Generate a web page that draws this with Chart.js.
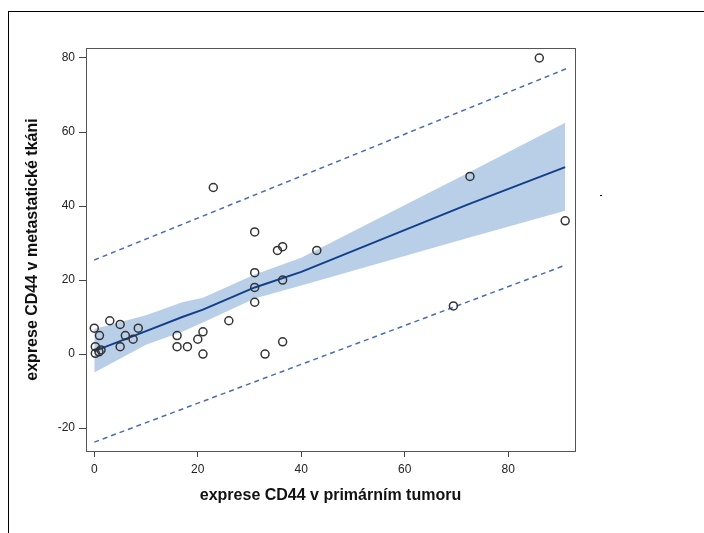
<!DOCTYPE html>
<html>
<head>
<meta charset="utf-8">
<script src="https://cdn.jsdelivr.net/npm/chart.js@4/dist/chart.umd.min.js"></script>
<style>
  body { margin: 0; background: #fff; overflow: hidden; }
  #wrap { position: relative; width: 704px; height: 533px; }
  #frame { position: absolute; left: 8px; top: 11px; width: 720px; height: 540px; border: 1px solid #000; }
  #dot { position: absolute; left: 600px; top: 195px; width: 2px; height: 1px; background: #000; }
  canvas { position: absolute; left: 0; top: 0; }
</style>
</head>
<body>
<div id="wrap">
  <div id="frame"></div>
  <div id="dot"></div>
  <canvas id="graf" width="704" height="533"></canvas>
</div>
<script>
// pozorovane hodnoty
const primX = [0.2, 0.9, 1.3, 0.2, 0, 1, 3, 5, 5, 6, 7.5, 8.5, 16, 16, 18, 20, 21, 21, 23, 26,
               31, 31, 31, 31, 33, 35.4, 36.4, 36.4, 36.4, 43, 69.4, 72.6, 86, 91];
const metaY = [0.2, 0.6, 1.1, 2, 7, 5, 9, 8, 2, 5, 4, 7, 5, 2, 2, 4, 6, 0, 45, 9,
               33, 22, 18, 14, 0, 28, 29, 20, 3.3, 28, 13, 48, 80, 36];

// vyhlazena krivka a pas spolehlivosti
const curveX = [0, 10, 17, 21, 31, 40, 72, 91];
const fitY   = [0.8, 6.2, 10, 12, 18, 22.2, 40.3, 50.5];
const bandHi = [6.8, 10.5, 14, 15.2, 21.5, 26, 48.8, 62.5];
const bandLo = [-5, 2.5, 6, 8.5, 15, 18.5, 31.3, 38.7];

// predikcni meze
const predX  = [0, 91.2];
const predHi = [25.4, 77.1];
const predLo = [-23.8, 24.1];

const xTicks = [0, 20, 40, 60, 80];
const yTicks = [-20, 0, 20, 40, 60, 80];

const pts = (xs, ys) => xs.map((x, i) => ({ x: x, y: ys[i] }));

const navy = '#123f8c';
const dashBlue = '#4a6db0';
const bandCol = '#b9cfe8';

// ramecek kolem plochy grafu
const ramecek = {
  id: 'ramecek',
  afterDraw(chart) {
    const a = chart.chartArea, c = chart.ctx;
    c.save();
    c.strokeStyle = '#555';
    c.lineWidth = 1;
    c.strokeRect(Math.round(a.left) + 0.5, Math.round(a.top) + 0.5,
                 Math.round(a.right - a.left), Math.round(a.bottom - a.top));
    c.restore();
  }
};

new Chart(document.getElementById('graf'), {
  type: 'scatter',
  data: {
    datasets: [
      {
        data: pts(primX, metaY),
        order: 0,
        pointRadius: 4,
        pointBorderWidth: 1.5,
        borderColor: '#333',
        backgroundColor: 'rgba(0,0,0,0)'
      },
      {
        data: pts(curveX, fitY),
        showLine: true, order: 1,
        pointRadius: 0, borderColor: navy, borderWidth: 2
      },
      {
        data: pts(predX, predHi),
        showLine: true, order: 2,
        pointRadius: 0, borderColor: dashBlue, borderWidth: 1.5, borderDash: [5, 4]
      },
      {
        data: pts(predX, predLo),
        showLine: true, order: 2,
        pointRadius: 0, borderColor: dashBlue, borderWidth: 1.5, borderDash: [5, 4]
      },
      {
        data: pts(curveX, bandHi),
        showLine: true, order: 3,
        pointRadius: 0, borderWidth: 0, borderColor: bandCol,
        backgroundColor: bandCol, fill: '+1'
      },
      {
        data: pts(curveX, bandLo),
        showLine: true, order: 3,
        pointRadius: 0, borderWidth: 0, borderColor: bandCol
      }
    ]
  },
  options: {
    responsive: false,
    animation: false,
    layout: { padding: { top: 48, right: 129, left: 0, bottom: 0 } },
    plugins: { legend: { display: false }, tooltip: { enabled: false } },
    scales: {
      x: {
        min: -1.6, max: 92.9,
        afterBuildTicks: s => { s.ticks = xTicks.map(v => ({ value: v })); },
        afterFit: s => { s.height = 82; },
        grid: { drawOnChartArea: false, tickLength: 6, color: '#444' },
        border: { display: false },
        ticks: { color: '#222', padding: 5, maxRotation: 0,
                 font: { family: 'Liberation Sans', size: 12 } },
        title: { display: true, text: 'exprese CD44 v primárním tumoru', color: '#111',
                 padding: { top: 0, bottom: 28 },
                 font: { family: 'Liberation Sans', size: 16, weight: 'bold' } }
      },
      y: {
        min: -26.2, max: 82.7,
        afterBuildTicks: s => { s.ticks = yTicks.map(v => ({ value: v })); },
        afterFit: s => { s.width = 86; },
        grid: { drawOnChartArea: false, tickLength: 7, color: '#444' },
        border: { display: false },
        ticks: { color: '#222', padding: 4,
                 font: { family: 'Liberation Sans', size: 12 } },
        title: { display: true, text: 'exprese CD44 v metastatické tkáni', color: '#111',
                 padding: { top: 23, bottom: 0 },
                 font: { family: 'Liberation Sans', size: 16, weight: 'bold' } }
      }
    }
  },
  plugins: [ramecek]
});
</script>
</body>
</html>
